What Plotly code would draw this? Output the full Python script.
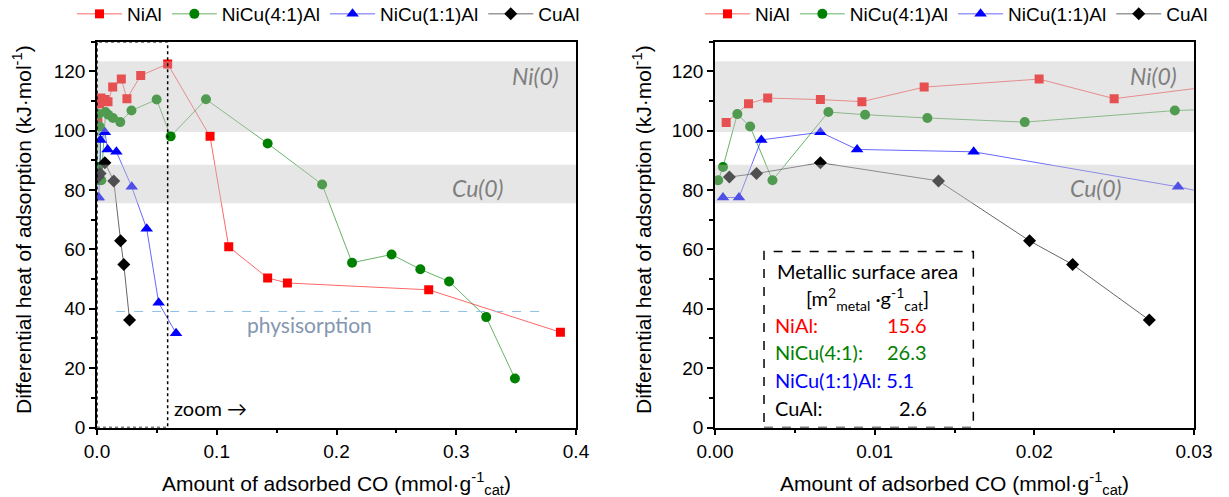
import plotly.graph_objects as go

# ---------------- data ----------------
series_names = ["NiAl", "NiCu(4:1)Al", "NiCu(1:1)Al", "CuAl"]

nial_x = [0.0007, 0.0021, 0.0033, 0.0066, 0.0092, 0.0131, 0.0203, 0.0250, 0.0365, 0.059,
          0.0944, 0.110, 0.1425, 0.159, 0.277, 0.387]
nial_y = [102.8, 109.1, 111.0, 110.5, 109.8, 114.7, 117.4, 110.8, 118.6, 122.5,
          98.1, 60.9, 50.4, 48.7, 46.4, 32.1]

nicu41_x = [0.0002, 0.0005, 0.0014, 0.0022, 0.0036, 0.0071, 0.0094, 0.0133, 0.0194, 0.0288,
            0.0498, 0.0615, 0.091, 0.1425, 0.188, 0.213, 0.246, 0.270, 0.294, 0.325, 0.349]
nicu41_y = [83.3, 87.8, 105.6, 101.4, 83.3, 106.3, 105.4, 104.3, 102.9, 106.8,
            110.5, 98.1, 110.6, 95.7, 81.9, 55.5, 58.3, 53.3, 49.2, 37.2, 16.5]

nicu11_x = [0.0005, 0.0015, 0.0029, 0.0066, 0.0089, 0.0162, 0.0290, 0.0415, 0.0515, 0.066]
nicu11_y = [77.5, 77.5, 96.9, 99.5, 93.7, 92.9, 81.1, 67.0, 42.0, 31.8]

cual_x = [0.0009, 0.0026, 0.0066, 0.0140, 0.0197, 0.0224, 0.0272]
cual_y = [84.4, 85.6, 89.2, 83.1, 62.9, 54.9, 36.2]

ni_band = [99.6, 123.4]
cu_band = [75.6, 88.5]
physisorption_level = 39.1
zoom_limit = 0.059

surface_labels = ["NiAl:", "NiCu(4:1):", "NiCu(1:1)Al: 5.1", "CuAl:"]
surface_values = ["15.6", "26.3", "", "2.6"]

# ---------------- styling ----------------
marker_colors = ["#ff0000", "#008000", "#0000ff", "#000000"]
line_colors = ["rgba(255,0,0,0.6)", "rgba(0,128,0,0.6)", "rgba(0,0,255,0.6)", "rgba(0,0,0,0.6)"]
symbols = ["square", "circle", "triangle-up", "diamond"]
sizes = [9, 10, 11, 10]
xs = [nial_x, nicu41_x, nicu11_x, cual_x]
ys = [nial_y, nicu41_y, nicu11_y, cual_y]

W, H = 1229, 497
def px_x(p): return p / W
def px_y(p): return 1 - p / H

fig = go.Figure()
for i, name in enumerate(series_names):
    for xa, ya, lg in (("x", "y", "legend"), ("x2", "y2", "legend2")):
        fig.add_trace(go.Scatter(
            x=xs[i], y=ys[i], name=name, mode="lines+markers",
            xaxis=xa, yaxis=ya, legend=lg,
            line=dict(color=line_colors[i], width=1),
            marker=dict(color=marker_colors[i], symbol=symbols[i], size=sizes[i], line=dict(width=0)),
            cliponaxis=True,
        ))

tickfont = dict(family="Liberation Sans, Arial", size=19, color="black")
ydom = [px_y(427.5), px_y(41.7)]
axis_common = dict(showgrid=False, zeroline=False, showline=True, linecolor="black", linewidth=1.5,
                   mirror=True, ticks="outside", ticklen=6, tickwidth=1.5, tickcolor="black",
                   tickfont=tickfont, automargin=False)

fig.update_layout(
    width=W, height=H, margin=dict(l=0, r=0, t=0, b=0, autoexpand=False),
    paper_bgcolor="white", plot_bgcolor="white",
    xaxis=dict(domain=[px_x(97), px_x(576)], range=[0, 0.4], dtick=0.1, tick0=0, tickformat=".1f",
               anchor="y", minor=dict(dtick=0.05, ticks="outside", ticklen=4, tickcolor="black"),
               **axis_common),
    yaxis=dict(domain=ydom, range=[0, 130], dtick=20, tick0=0, anchor="x",
               minor=dict(dtick=10, ticks="outside", ticklen=4, tickcolor="black"), **axis_common),
    xaxis2=dict(domain=[px_x(715), px_x(1194)], range=[0, 0.03], dtick=0.01, tick0=0, tickformat=".2f",
                anchor="y2", minor=dict(dtick=0.005, ticks="outside", ticklen=4, tickcolor="black"),
                **axis_common),
    yaxis2=dict(domain=ydom, range=[0, 130], dtick=20, tick0=0, anchor="x2",
                minor=dict(dtick=10, ticks="outside", ticklen=4, tickcolor="black"), **axis_common),
    legend=dict(orientation="h", x=px_x(72), y=px_y(14), xanchor="left", yanchor="middle",
                font=dict(family="Liberation Sans, Arial", size=19, color="black"),
                itemwidth=45, bgcolor="rgba(0,0,0,0)"),
    legend2=dict(orientation="h", x=px_x(700), y=px_y(14), xanchor="left", yanchor="middle",
                 font=dict(family="Liberation Sans, Arial", size=19, color="black"),
                 itemwidth=45, bgcolor="rgba(0,0,0,0)"),
    showlegend=True,
)

shapes = []
for xr, yr in (("x domain", "y"), ("x2 domain", "y2")):
    for band in (ni_band, cu_band):
        shapes.append(dict(type="rect", xref=xr, yref=yr, x0=0, x1=1, y0=band[0], y1=band[1],
                           fillcolor="rgb(195,195,195)", opacity=0.41, line=dict(width=0),
                           layer="above"))
# zoom box (left)
shapes.append(dict(type="rect", xref="x", yref="y", x0=0, x1=zoom_limit, y0=0, y1=130,
                   line=dict(color="black", width=1.5, dash="dot"), fillcolor="rgba(0,0,0,0)",
                   layer="above"))
# physisorption line
shapes.append(dict(type="line", xref="x", yref="y", x0=0.016, x1=0.373,
                   y0=physisorption_level, y1=physisorption_level,
                   line=dict(color="#8fbfe0", width=1, dash="dash"), layer="above"))
# surface-area box (right)
shapes.append(dict(type="rect", xref="x2", yref="y2", x0=0.00307, x1=0.01618, y0=0, y1=59.3,
                   line=dict(color="black", width=1.5, dash="dash"), fillcolor="white",
                   layer="above"))
fig.update_layout(shapes=shapes)

ann = []
label_font = dict(family="Liberation Sans, Arial", size=21, color="black")
ytitle = "Differential heat of adsorption (kJ·mol<sup>-1</sup>)"
xtitle = "Amount of adsorbed CO (mmol·g<sup>-1</sup><sub>cat</sub>)"
for xp in (22, 642):
    ann.append(dict(text=ytitle, xref="paper", yref="paper", x=px_x(xp), y=px_y(230),
                    textangle=-90, showarrow=False, font=label_font, xanchor="center", yanchor="middle"))
for xp in (336.5, 954.5):
    ann.append(dict(text=xtitle, xref="paper", yref="paper", x=px_x(xp), y=px_y(483),
                    showarrow=False, font=label_font, xanchor="center", yanchor="middle"))

italic_font = dict(family="Lato, Open Sans", size=23, color="#7f7f7f")
for xr, yr in (("x domain", "y"), ("x2 domain", "y2")):
    ann.append(dict(text="<i>Ni(0)</i>", xref=xr, yref=yr, x=0.968, y=118.3, showarrow=False,
                    font=italic_font, xanchor="right", yanchor="middle"))
    ann.append(dict(text="<i>Cu(0)</i>", xref=xr, yref=yr, x=0.853, y=80.8, showarrow=False,
                    font=italic_font, xanchor="right", yanchor="middle"))

ann.append(dict(text="physisorption", xref="x", yref="y", x=0.124, y=34.7, showarrow=False,
                font=dict(family="Lato, Open Sans", size=21, color="#8496b0"),
                xanchor="left", yanchor="middle"))
ann.append(dict(text="zoom →", xref="x", yref="y", x=0.063, y=6.5, showarrow=False,
                font=dict(family="Lato, Open Sans", size=20, color="black"),
                xanchor="left", yanchor="middle"))

box_font = "Lato, Open Sans"
bfs = 20
ann.append(dict(text="Metallic surface area", xref="x2", yref="y2", x=0.00958, y=52.9,
                showarrow=False, font=dict(family=box_font, size=bfs, color="black"),
                xanchor="center", yanchor="middle"))
ann.append(dict(text="[m<sup>2</sup><sub>metal</sub> ·g<sup>-1</sup><sub>cat</sub>]", xref="x2", yref="y2",
                x=0.00958, y=43.3, showarrow=False, font=dict(family=box_font, size=bfs, color="black"),
                xanchor="center", yanchor="middle"))
row_y = [34.7, 25.3, 15.9, 6.5]
for i in range(4):
    ann.append(dict(text=surface_labels[i], xref="x2", yref="y2", x=0.00365, y=row_y[i],
                    showarrow=False, font=dict(family=box_font, size=bfs, color=marker_colors[i]),
                    xanchor="left", yanchor="middle"))
    if surface_values[i]:
        ann.append(dict(text=surface_values[i], xref="x2", yref="y2", x=0.0134, y=row_y[i],
                        showarrow=False, font=dict(family=box_font, size=bfs, color=marker_colors[i]),
                        xanchor="right", yanchor="middle"))
fig.update_layout(annotations=ann)

fig.write_html("out.html")
